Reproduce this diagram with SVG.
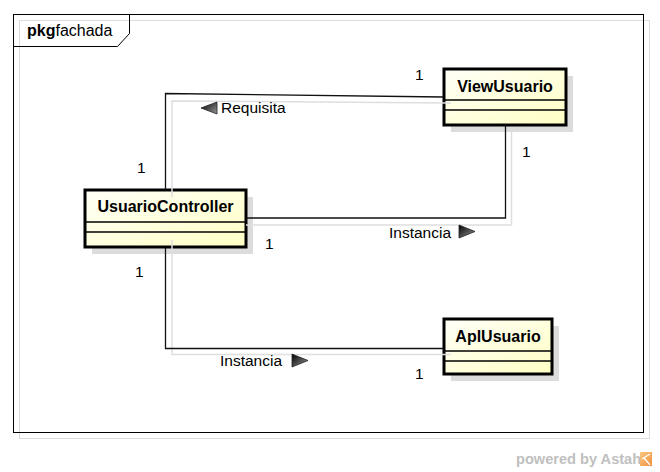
<svg xmlns="http://www.w3.org/2000/svg" width="660" height="472" viewBox="0 0 660 472">
<defs>
<linearGradient id="boxfill" x1="0" y1="0" x2="1" y2="1">
<stop offset="0" stop-color="#fffff8"/>
<stop offset="1" stop-color="#ffffc4"/>
</linearGradient>
<linearGradient id="arrfill" x1="0" y1="0" x2="1" y2="1">
<stop offset="0" stop-color="#000"/>
<stop offset="1" stop-color="#999"/>
</linearGradient>
<linearGradient id="logo" x1="0" y1="0" x2="1" y2="1">
<stop offset="0" stop-color="#f8c880"/>
<stop offset="1" stop-color="#f09040"/>
</linearGradient>
</defs>
<style>
.txt{font-family:"Liberation Sans",Arial,sans-serif;font-size:15.5px;fill:#000}
.name{font-family:"Liberation Sans",Arial,sans-serif;font-size:16px;font-weight:bold;fill:#000;text-anchor:middle}
.box{fill:url(#boxfill);stroke:#000;stroke-width:3}
.shadow{fill:#dcdcdc;stroke:none}
.sep{stroke:#000;stroke-width:1.5}
.ln{fill:none;stroke:#111;stroke-width:1.3}
.sh{fill:none;stroke:#dedede;stroke-width:1.5}
.arr{fill:url(#arrfill);stroke:#222;stroke-width:0.8}
</style>
<rect width="660" height="472" fill="#fff"/>
<g id="frame">
<rect x="19.5" y="20.5" width="630" height="418" fill="none" stroke="#dcdcdc" stroke-width="1"/>
<rect x="13.5" y="14.5" width="630" height="418" fill="none" stroke="#000" stroke-width="1"/>
<polyline points="13.5,46.5 117.5,46.5 129.5,33.5 129.5,14.5" fill="none" stroke="#000" stroke-width="1"/>
<text x="27" y="36" style="font-family:'Liberation Sans',Arial,sans-serif;font-size:16px;fill:#000"><tspan font-weight="bold">pkg</tspan>fachada</text>
</g>
<g id="ViewUsuario">
<rect class="shadow" x="451" y="76" width="122" height="56"/>
<rect class="box" x="444" y="69" width="122" height="56"/>
<line class="sep" x1="444" y1="100" x2="566" y2="100"/>
<line class="sep" x1="444" y1="110" x2="566" y2="110"/>
<text class="name" x="505" y="92">ViewUsuario</text>
</g>
<g id="UsuarioController">
<rect class="shadow" x="92" y="197" width="161" height="57"/>
<rect class="box" x="85" y="190" width="161" height="57"/>
<line class="sep" x1="85" y1="222" x2="246" y2="222"/>
<line class="sep" x1="85" y1="232" x2="246" y2="232"/>
<text class="name" x="165.5" y="212">UsuarioController</text>
</g>
<g id="AplUsuario">
<rect class="shadow" x="451" y="326" width="108" height="55"/>
<rect class="box" x="444" y="319" width="108" height="55"/>
<line class="sep" x1="444" y1="351" x2="552" y2="351"/>
<line class="sep" x1="444" y1="361" x2="552" y2="361"/>
<text class="name" x="498" y="342">AplUsuario</text>
</g>
<g id="connectors">
<polyline class="sh" points="172,197 172,101 451,103"/>
<polyline class="ln" points="165.5,190 165.5,93.5 443,97"/>
<polygon class="arr" points="201,108 217,102 217,114"/>
<text class="txt" x="221" y="113">Requisita</text>
<text class="txt" x="415" y="80">1</text>
<text class="txt" x="137" y="173">1</text>

<polyline class="sh" points="246,225 511.5,225 511.5,130"/>
<polyline class="ln" points="246,218 505.5,218 505.5,125"/>
<polygon class="arr" points="459,225 475,231.5 459,238"/>
<text class="txt" x="389" y="238">Instancia</text>
<text class="txt" x="522" y="157">1</text>
<text class="txt" x="265" y="249">1</text>

<polyline class="sh" points="172,240 172,354.5 451,354.5"/>
<polyline class="ln" points="165.5,247 165.5,348.5 443,348.5"/>
<polygon class="arr" points="292,354 308,360.5 292,367"/>
<text class="txt" x="220" y="366">Instancia</text>
<text class="txt" x="135" y="277">1</text>
<text class="txt" x="415" y="379">1</text>
</g>
<g id="footer">
<text x="516" y="464" style="font-family:'Liberation Sans',Arial,sans-serif;font-size:14.6px;font-weight:bold;fill:#c0c0c0">powered by Astah</text>
<rect x="640" y="452" width="12" height="14" fill="url(#logo)"/>
<path d="M642,459 L650,454 M644,458 L650,465" stroke="#fff" stroke-width="1.2" fill="none"/>
</g>
</svg>
